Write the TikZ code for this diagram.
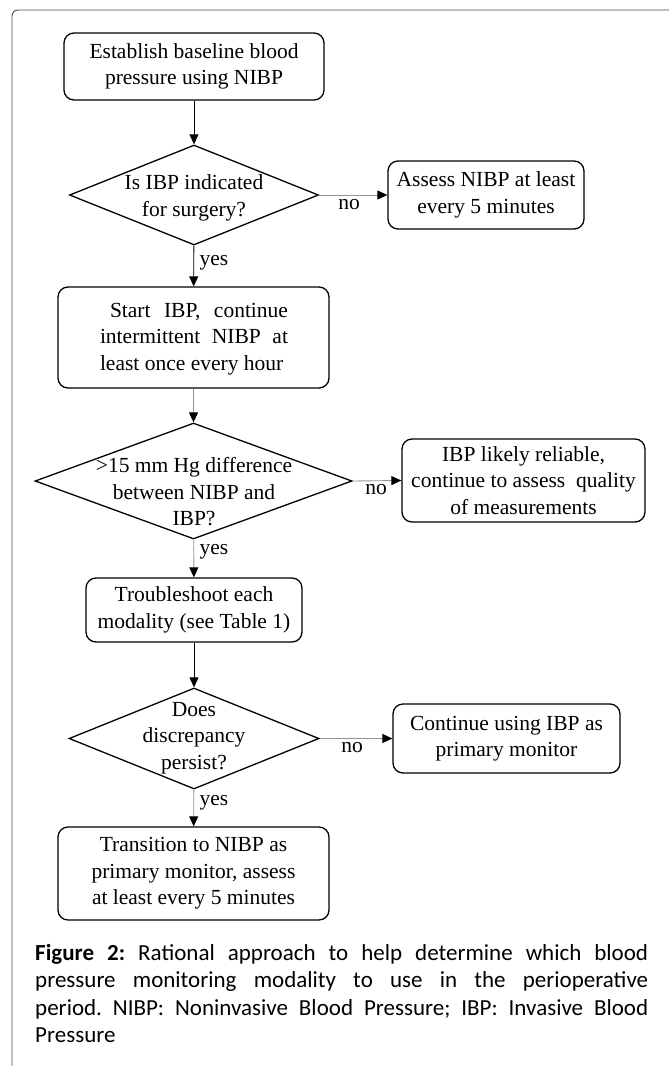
\documentclass[tikz,border=0pt]{standalone}
\usepackage{fontspec}
\setmainfont{Liberation Serif}
\newfontfamily\captionfont{Carlito}
\usetikzlibrary{shapes.geometric,arrows.meta}

\begin{document}
\begin{tikzpicture}[x=1pt,y=-1pt]

  \tikzstyle{every node}=[font=\fontsize{21.5}{26.5}\selectfont]
  \tikzstyle{procbox}=[draw, line width=1.3pt, rounded corners=10pt, align=center, inner sep=0pt]
  \tikzstyle{decision}=[draw, diamond, line width=1.3pt, inner sep=0pt]
  \tikzstyle{flow}=[-{Triangle[length=10pt,width=9pt]}, line width=0.9pt]
  \tikzstyle{greyflow}=[-{Triangle[length=10pt,width=9pt,color=black]}, line width=0.9pt, draw=gray!85]

  \useasboundingbox (0,0) rectangle (669,1066);
  \draw [gray!60!black, line width=0.9pt, rounded corners=6pt] (12,1066) -- (12,10) -- (669,10);

  \node [procbox, minimum width=260pt, minimum height=67pt] (baseline) at (194,66.5)
    {Establish baseline blood\\ pressure using NIBP};
  \node [decision, minimum width=249pt, minimum height=100pt] (indicated) at (194,195) {};
  \node at (194,198) [align=center] (indicatedtxt) {Is IBP indicated\\ for surgery?};
  \node [procbox, minimum width=196pt, minimum height=68pt] (assess) at (486,195)
    {Assess NIBP at least\\ every 5 minutes};

  \node [procbox, minimum width=271pt, minimum height=101pt] (start) at (193.5,337.5) {};
  \node at (194,339) [text width=188pt, align=justify, inner sep=0pt] (starttxt)
    {\hspace*{10pt}Start IBP, continue\linebreak intermittent NIBP at\linebreak least once every hour};

  \node [decision, minimum width=317pt, minimum height=116pt] (difference) at (193.5,481) {};
  \node at (194,492) [align=center] (differencetxt) {>15 mm Hg difference\\ between NIBP and\\ IBP?};
  \node [procbox, minimum width=243pt, minimum height=83pt] (reliable) at (523.5,480.5)
    {IBP likely reliable,\\ continue to assess~ quality\\ of measurements};

  \node [procbox, minimum width=216pt, minimum height=64pt] (trouble) at (194,610)
    {Troubleshoot each\\ modality (see Table 1)};

  \node [decision, minimum width=250pt, minimum height=101pt] (persist) at (194,738.5) {};
  \node at (194,738) [align=center] (persisttxt) {Does\\ discrepancy\\ persist?};
  \node [procbox, minimum width=227pt, minimum height=69pt] (useibp) at (506.5,738.5)
    {Continue using IBP as\\ primary monitor};

  \node [procbox, minimum width=271pt, minimum height=93pt] (transition) at (193.5,873.5)
    {Transition to NIBP as\\ primary monitor, assess\\ at least every 5 minutes};

  \draw [flow] (baseline) -- (indicated);
  \draw [greyflow] (indicated.east) -- (assess.west);
  \draw [flow] (indicated) -- (start);
  \draw [greyflow] (start) -- (difference);
  \draw [greyflow] (difference.east) -- (reliable.west);
  \draw [greyflow] (difference) -- (trouble);
  \draw [flow] (trouble) -- (persist);
  \draw [greyflow] (persist.east) -- (useibp.west);
  \draw [greyflow] (persist) -- (transition);

  \node at (349,205) (no1) {no};
  \node at (376,490) (no2) {no};
  \node at (352,748) (no3) {no};
  \node at (214,263) (yes1) {yes};
  \node at (214,552) (yes2) {yes};
  \node at (214,803) (yes3) {yes};

  %%% caption
  \node [anchor=base west, text width=613pt, align=justify, inner sep=0pt,
         font=\captionfont\fontsize{23}{27.5}\selectfont\frenchspacing] (caption) at (35,960)
    {\textbf{Figure 2:} Rational approach to help determine which blood\linebreak
     pressure monitoring modality to use in the perioperative\linebreak
     period. NIBP: Noninvasive Blood Pressure; IBP: Invasive Blood\linebreak
     Pressure};

\end{tikzpicture}
\end{document}
